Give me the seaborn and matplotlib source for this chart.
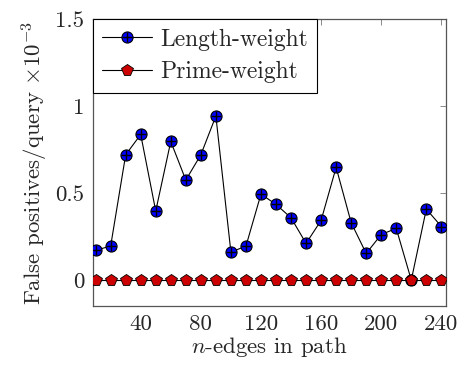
import numpy as np
import pandas as pd
import matplotlib
matplotlib.use("Agg")
import matplotlib.pyplot as plt
import seaborn as sns
from matplotlib.legend_handler import HandlerTuple
from matplotlib.lines import Line2D

edges = [10, 20, 30, 40, 50, 60, 70, 80, 90, 100, 110, 120,
         130, 140, 150, 160, 170, 180, 190, 200, 210, 220, 230, 240]
length_weight = [0.172, 0.195, 0.72, 0.837, 0.397, 0.797, 0.575, 0.72,
                 0.943, 0.161, 0.195, 0.494, 0.435, 0.358, 0.211, 0.343,
                 0.648, 0.33, 0.153, 0.262, 0.297, 0.0, 0.408, 0.308]
prime_weight = [0.0] * 24
x_ticks = [40, 80, 120, 160, 200, 240]
y_ticks = [0, 0.5, 1, 1.5]
y_tick_labels = ["0", "0.5", "1", "1.5"]

sns.set_theme(style="white")
plt.rcParams["font.family"] = ["cmr10", "DejaVu Serif"]
plt.rcParams["mathtext.fontset"] = "cm"
plt.rcParams["axes.formatter.use_mathtext"] = True

FS = 16.5
MS = 8

fig = plt.figure(figsize=(4.63, 3.68), dpi=100)
ax = fig.add_axes([0.200, 0.168, 0.763, 0.780])

df = pd.DataFrame({"edges": edges, "Length-weight": length_weight,
                   "Prime-weight": prime_weight})

sns.lineplot(data=df, x="edges", y="Length-weight", ax=ax, color="black",
             linewidth=0.8, marker="o", markersize=MS,
             markerfacecolor="#0000ff", markeredgecolor="black",
             markeredgewidth=0.8, zorder=3)
sns.scatterplot(data=df, x="edges", y="Length-weight", ax=ax, marker="+",
                s=45, color="black", linewidth=1.0, zorder=4)
sns.lineplot(data=df, x="edges", y="Prime-weight", ax=ax, color="black",
             linewidth=0.8, marker="p", markersize=MS + 0.5,
             markerfacecolor="#cc0000", markeredgecolor="black",
             markeredgewidth=0.6, zorder=5)

ax.set_xlim(8, 243)
ax.set_ylim(-0.15, 1.5)
ax.set_xticks(x_ticks)
ax.set_xticklabels([str(t) for t in x_ticks])
ax.set_yticks(y_ticks)
ax.set_yticklabels(y_tick_labels)
ax.tick_params(direction="in", top=True, right=True, length=4, width=0.6,
               color="#777777", labelsize=FS, pad=6)
for s in ax.spines.values():
    s.set_color("#555555")
    s.set_linewidth(0.9)

ax.set_xlabel(r"$n$-edges in path", fontsize=FS, labelpad=1)
ax.set_ylabel(r"False positives/query $\times10^{-3}$", fontsize=FS, labelpad=4)

h1 = (Line2D([], [], color="black", lw=0.8, marker="o", markersize=MS,
             markerfacecolor="#0000ff", markeredgecolor="black", markeredgewidth=0.8),
      Line2D([], [], color="black", lw=0, marker="+", markersize=7,
             markeredgewidth=1.0))
h2 = Line2D([], [], color="black", lw=0.8, marker="p", markersize=MS + 0.5,
            markerfacecolor="#cc0000", markeredgecolor="black", markeredgewidth=0.6)
leg = ax.legend([h1, h2], ["Length-weight", "Prime-weight"],
                handler_map={tuple: HandlerTuple(ndivide=1, pad=0)},
                loc="upper left", fontsize=17, frameon=True, fancybox=False,
                edgecolor="black", framealpha=1, borderaxespad=0.0,
                handlelength=2.1, handletextpad=0.35, borderpad=0.4,
                labelspacing=0.45)
leg.get_frame().set_linewidth(0.8)

fig.savefig("out.png", dpi=100)
